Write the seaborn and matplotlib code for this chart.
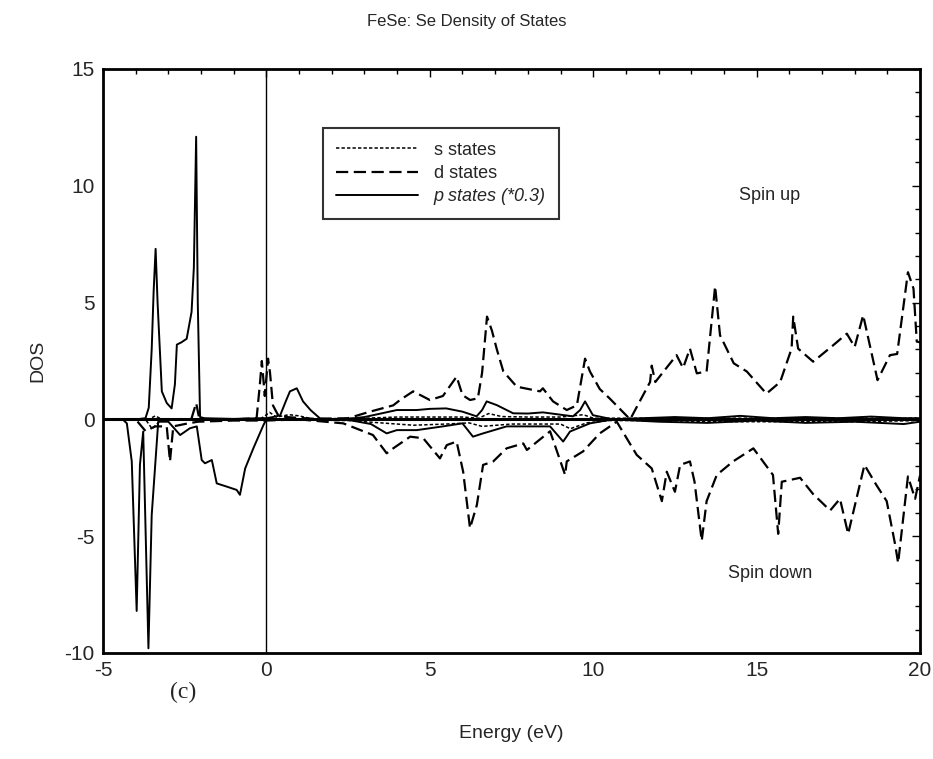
import numpy as np
import pandas as pd
import matplotlib
matplotlib.use("Agg")
import matplotlib.pyplot as plt
import seaborn as sns
from matplotlib.ticker import MultipleLocator

# ---------------- data ----------------
p_up_x = [-5, -4.0, -3.7, -3.6, -3.51, -3.45, -3.39, -3.33, -3.2, -3.05, -2.9, -2.8, -2.74, -2.6,
          -2.44, -2.29, -2.22, -2.15, -2.1, -2.03, -1.9, -1.0, -0.2, 0.0, 0.2, 0.42, 0.6, 0.72,
          0.93, 1.12, 1.35, 1.64, 2.35, 3.0, 3.5, 3.99, 4.6, 5.0, 5.5, 6.0, 6.43, 6.6, 6.74, 7.05,
          7.55, 8.0, 8.46, 9.0, 9.38, 9.6, 9.75, 9.99, 10.6, 11.5, 12.5, 13.5, 14.5, 15.5, 16.5,
          17.5, 18.5, 19.5, 20]
p_up_y = [0, 0, 0.05, 0.5, 3.0, 5.5, 7.3, 5.0, 1.2, 0.7, 0.47, 1.5, 3.2, 3.3,
          3.45, 4.6, 6.5, 12.1, 5.0, 0.1, 0.05, 0.02, 0.05, 0.05, 0.1, 0.17, 0.8, 1.2,
          1.33, 0.77, 0.4, 0.04, 0.0, 0.1, 0.25, 0.4, 0.4, 0.45, 0.47, 0.33, 0.13, 0.4, 0.77, 0.61,
          0.26, 0.25, 0.3, 0.2, 0.13, 0.4, 0.77, 0.18, 0.0, 0.05, 0.1, 0.05, 0.15, 0.05, 0.1,
          0.05, 0.12, 0.05, 0.05]

p_dn_x = [-5, -4.4, -4.27, -4.12, -3.97, -3.87, -3.77, -3.61, -3.51, -3.31, -3.0, -2.64, -2.34,
          -2.13, -1.98, -1.88, -1.67, -1.52, -1.21, -0.91, -0.81, -0.65, -0.4, -0.09, 0.0, 1.0,
          2.5, 3.2, 3.68, 3.99, 4.6, 5.4, 6.0, 6.32, 6.63, 7.35, 8.68, 9.08, 9.29, 9.9, 10.6, 12,
          13.5, 15, 16.5, 18, 19.5, 20]
p_dn_y = [0, 0, -0.17, -1.8, -8.2, -1.95, -0.52, -9.8, -4.1, -0.1, -0.1, -0.67, -0.38,
          -0.3, -1.74, -1.88, -1.74, -2.74, -2.88, -3.02, -3.23, -2.1, -1.24, -0.24, 0, 0,
          -0.02, -0.2, -0.6, -0.46, -0.46, -0.3, -0.17, -0.74, -0.6, -0.3, -0.3, -0.95, -0.52,
          -0.17, 0, -0.1, -0.15, -0.05, -0.15, -0.1, -0.2, -0.1]

d_up_x = [-5, -2.3, -2.15, -2.05, -1.0, -0.3, -0.2, -0.14, -0.05, 0.05, 0.11, 0.2, 0.35, 0.6,
          1.5, 2.5, 3.17, 3.88, 4.09, 4.49, 5.0, 5.4, 5.82, 6.0, 6.23, 6.47, 6.6, 6.75, 6.9, 7.05,
          7.25, 7.66, 8.37, 8.46, 8.77, 9.19, 9.5, 9.75, 9.9, 10.2, 10.5, 11.13, 11.74, 11.79,
          11.9, 12.55, 12.75, 12.96, 13.17, 13.47, 13.73, 13.88, 14.3, 14.7, 15.3, 15.72, 16.07,
          16.12, 16.27, 16.73, 17.34, 17.76, 18.0, 18.26, 18.7, 19.08, 19.3, 19.63, 19.8, 19.9, 20]
d_up_y = [0, 0, 0.7, 0, 0, 0.05, 1.5, 2.5, 1.0, 2.6, 2.0, 0.6, 0.2, 0.1,
          0.02, 0.05, 0.33, 0.6, 0.83, 1.2, 0.83, 1.0, 1.83, 1.04, 0.83, 0.9, 2.0, 4.4, 3.8, 3.0,
          2.05, 1.4, 1.2, 1.33, 0.77, 0.4, 0.6, 2.6, 2.05, 1.3, 0.9, 0.0, 1.6, 2.3,
          1.6, 2.75, 2.2, 3.03, 1.97, 2.05, 5.7, 3.6, 2.4, 2.05, 1.1, 1.6, 3.03,
          4.4, 3.03, 2.47, 3.17, 3.67, 3.1, 4.46, 1.68, 2.75, 2.8, 6.3, 5.6, 3.33, 3.3]

d_dn_x = [-5, -4.0, -3.7, -3.4, -3.05, -2.95, -2.85, -2.5, -2.1, -1, 0, 1, 2.35, 3.26, 3.68,
          3.88, 4.4, 4.8, 5.31, 5.52, 5.82, 6.02, 6.23, 6.44, 6.63, 6.94, 7.35, 7.86, 7.97, 8.68,
          9.14, 9.19, 9.69, 10.2, 10.72, 11.33, 11.79, 12.1, 12.25, 12.5, 12.66, 12.96, 13.1,
          13.32, 13.47, 13.78, 14.28, 14.9, 15.5, 15.66, 15.77, 16.33, 16.73, 17.25, 17.55,
          17.8, 18.3, 18.66, 18.98, 19.24, 19.33, 19.63, 19.85, 20]
d_dn_y = [0, 0, -0.5, -0.3, -0.3, -1.8, -0.3, -0.2, -0.1, -0.05, -0.05, 0, -0.17, -0.67, -1.45,
          -1.24, -0.74, -0.81, -1.67, -1.1, -0.95, -2.24, -4.66, -3.66, -1.95, -1.8, -1.24, -1.03,
          -1.31, -0.51, -2.38, -1.8, -1.37, -0.6, -0.1, -1.52, -2.1, -3.5, -2.24, -3.1, -1.95,
          -1.8, -2.67, -5.2, -3.5, -2.38, -1.8, -1.24, -2.38, -4.9, -2.67, -2.5, -3.2, -3.9, -3.4,
          -4.9, -1.95, -2.8, -3.5, -5.37, -6.15, -2.44, -3.4, -2.4]

s_up_x = [-5, -3.6, -3.4, -3.2, -2.0, -0.2, 0.1, 0.3, 0.7, 1.0, 1.4, 3.0, 4.0, 5.0, 6.0, 6.5,
          6.8, 7.2, 8.0, 9.0, 9.7, 10.0, 11, 13, 15, 17, 19, 20]
s_up_y = [0, 0, 0.15, 0, 0, 0, 0.3, 0.1, 0.2, 0.15, 0.02, 0.05, 0.1, 0.1, 0.1, 0.05,
          0.25, 0.12, 0.1, 0.1, 0.2, 0.05, 0.05, 0.05, 0.05, 0.05, 0.05, 0.05]

s_dn_x = [-5, -3.7, -3.5, -3.2, -0.5, 0, 2.5, 3.5, 4.5, 5.5, 6.2, 6.6, 7.5, 9.0, 9.3, 9.8, 10.5,
          12, 14, 16, 18, 20]
s_dn_y = [0, 0, -0.4, 0, 0, 0, -0.05, -0.15, -0.25, -0.2, -0.15, -0.3, -0.2, -0.2, -0.4, -0.15,
          -0.05, -0.05, -0.1, -0.1, -0.1, -0.05]

x_ticks = [-5, 0, 5, 10, 15, 20]
y_ticks = [-10, -5, 0, 5, 10, 15]

# ---------------- style ----------------
sns.set_style("white")
plt.rcParams['font.family'] = ['Liberation Sans Narrow', 'Liberation Sans', 'DejaVu Sans']
plt.rcParams['axes.unicode_minus'] = False

fig = plt.figure(figsize=(9.33, 7.59), dpi=100)
ax = fig.add_axes([0.1104, 0.1397, 0.8757, 0.7694])

series = [
    (s_up_x, s_up_y, (2.2, 1.4), 1.1, "s states"),
    (s_dn_x, s_dn_y, (2.2, 1.4), 1.1, None),
    (d_up_x, d_up_y, (5.5, 2.5), 1.6, "d states"),
    (d_dn_x, d_dn_y, (5.5, 2.5), 1.6, None),
    (p_up_x, p_up_y, None, 1.4, "p states (*0.3)"),
    (p_dn_x, p_dn_y, None, 1.4, None),
]
for xs, ys, dash, lw, lab in series:
    df = pd.DataFrame({"Energy": xs, "DOS": ys})
    sns.lineplot(data=df, x="Energy", y="DOS", ax=ax, color="black", lw=lw,
                 estimator=None, sort=False, label=lab, legend=False)
    line = ax.lines[-1]
    if dash is not None:
        line.set_dashes(dash)

ax.axhline(0, color="black", lw=2.2, zorder=1)
ax.axvline(0, color="black", lw=1.0)

ax.set_xlim(-5, 20)
ax.set_ylim(-10, 15)
ax.set_xticks(x_ticks)
ax.set_yticks(y_ticks)
ax.xaxis.set_minor_locator(MultipleLocator(1))
ax.yaxis.set_minor_locator(MultipleLocator(1))
ax.tick_params(which="both", direction="in", top=True, right=True, color="black")
ax.tick_params(which="major", length=6, width=1.0, labelsize=15, pad=6)
ax.tick_params(which="minor", length=3.5, width=1.0)
for sp in ax.spines.values():
    sp.set_color("black")
    sp.set_linewidth(2.0)

ax.set_xlabel("Energy (eV)", fontsize=14, labelpad=32)
ax.set_ylabel("DOS", fontsize=14, labelpad=13)
fig.text(0.5, 0.972, "FeSe: Se Density of States", ha="center", va="center", fontsize=12)

ax.text(15.4, 9.6, "Spin up", fontsize=13, ha="center", va="center")
ax.text(15.4, -6.6, "Spin down", fontsize=13, ha="center", va="center")
fig.text(183 / 933, 1 - 692 / 759, "(c)", fontsize=17, ha="center", va="center",
         family=["Liberation Serif", "DejaVu Serif"])

handles, labels = ax.get_legend_handles_labels()
leg = ax.legend(handles, labels, loc="upper left", bbox_to_anchor=(0.269, 0.899),
                fontsize=13, frameon=True, fancybox=False, handlelength=4.5,
                borderpad=0.75, labelspacing=0.35, handletextpad=0.9, borderaxespad=0)
leg.get_frame().set_edgecolor("black")
leg.get_frame().set_linewidth(1.5)
leg.get_texts()[2].set_style("italic")

fig.savefig("out.png", dpi=100)
